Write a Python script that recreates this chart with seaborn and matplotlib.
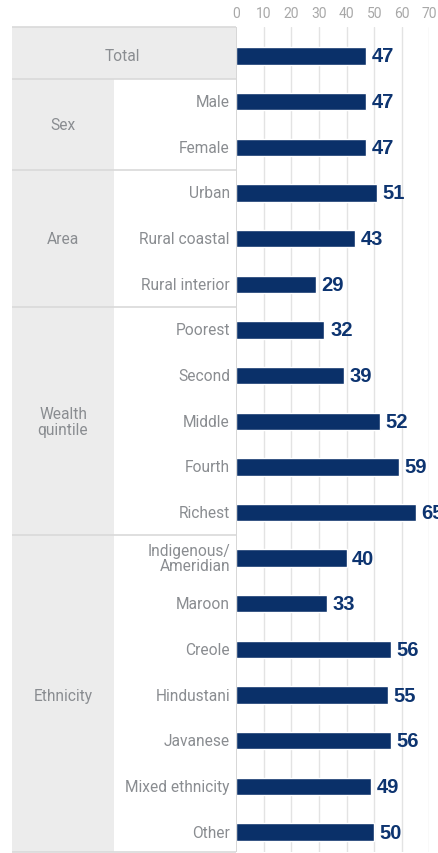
import matplotlib
matplotlib.use("Agg")
import matplotlib.pyplot as plt
import seaborn as sns
import pandas as pd
from matplotlib.patches import Rectangle

categories = ["Total", "Male", "Female", "Urban", "Rural coastal", "Rural interior",
              "Poorest", "Second", "Middle", "Fourth", "Richest",
              "Indigenous/\nAmeridian", "Maroon", "Creole", "Hindustani", "Javanese",
              "Mixed ethnicity", "Other"]
values = [47, 47, 47, 51, 43, 29, 32, 39, 52, 59, 65, 40, 33, 56, 55, 56, 49, 50]
groups = ["Sex", "Area", "Wealth\nquintile", "Ethnicity"]
group_sizes = [2, 3, 5, 7]
x_ticks = [0, 10, 20, 30, 40, 50, 60, 70]

sns.set_theme(style="white")
plt.rcParams['font.family'] = ['Roboto', 'DejaVu Sans']

W, H = 439, 854
fig = plt.figure(figsize=(W / 100, H / 100), dpi=100)

top_px, bot_px = 28, 853
x0_px, x70_px = 236, 429.5
row0_px, row_h = 57, 45.65
ytop = -(row0_px - top_px) / row_h
ybot = (bot_px - row0_px) / row_h

def fy(p):
    return 1 - p / H

bar_color = "#0a3069"
label_color = "#8a8d91"
line_color = "#d9d9d9"
grid_color = "#e3e3e3"
lab_fs = 11.2

# ---- table axes ----
tab = fig.add_axes([0, fy(bot_px), x0_px / W, (bot_px - top_px) / H])
tab.set_xlim(0, x0_px)
tab.set_ylim(ybot, ytop)
tab.axis("off")

gray_fill = "#ececec"
tab.add_patch(Rectangle((12, ytop), x0_px - 12, 0.5 - ytop, facecolor=gray_fill, edgecolor="none"))
tab.add_patch(Rectangle((12, 0.5), 114 - 12, ybot - 0.5, facecolor=gray_fill, edgecolor="none"))

bounds = [ytop, 0.5]
acc = 0.5
for s in group_sizes:
    acc += s
    bounds.append(acc)
bounds[-1] = ybot
for b in bounds:
    tab.plot([12, x0_px], [b, b], color=line_color, lw=1.2, solid_capstyle="butt", clip_on=False)

tab.text(122, 0, categories[0], ha="center", va="center", fontsize=lab_fs, color=label_color)
start = 1
for g, s in zip(groups, group_sizes):
    center = start + (s - 1) / 2
    tab.text(63, center, g, ha="center", va="center", fontsize=lab_fs, color=label_color, linespacing=1.1)
    start += s
for i, c in enumerate(categories[1:], start=1):
    tab.text(230, i, c, ha="right", va="center", fontsize=lab_fs, color=label_color, linespacing=1.05)

# ---- bar axes ----
ax = fig.add_axes([x0_px / W, fy(bot_px), (x70_px - x0_px) / W, (bot_px - top_px) / H])
df = pd.DataFrame({"category": categories, "value": values})
sns.barplot(data=df, x="value", y="category", order=categories, color=bar_color,
            width=0.38, saturation=1, ax=ax)
ax.set_xlim(0, 70)
ax.set_ylim(ybot, ytop)
ax.set_xticks(x_ticks)
ax.set_xticklabels([str(t) for t in x_ticks])
ax.xaxis.tick_top()
ax.tick_params(axis="x", length=0, pad=5, labelsize=10, labelcolor="#a8a8a8")
ax.set_yticks([])
ax.set_xlabel("")
ax.set_ylabel("")
for sp in ax.spines.values():
    sp.set_visible(False)
ax.set_axisbelow(True)
for t in x_ticks[1:]:
    ax.axvline(t, color=grid_color, lw=1, zorder=0)
ax.axvline(0, color="#d0d0d0", lw=1.2, zorder=3)

for i, v in enumerate(values):
    ax.annotate(str(v), xy=(v, i), xytext=(4, 0), textcoords="offset points",
                ha="left", va="center", fontsize=14.5, fontweight="bold",
                color="#0d3470", family=["Liberation Sans", "DejaVu Sans"],
                annotation_clip=False, clip_on=False)

fig.savefig("out.png", dpi=100)
